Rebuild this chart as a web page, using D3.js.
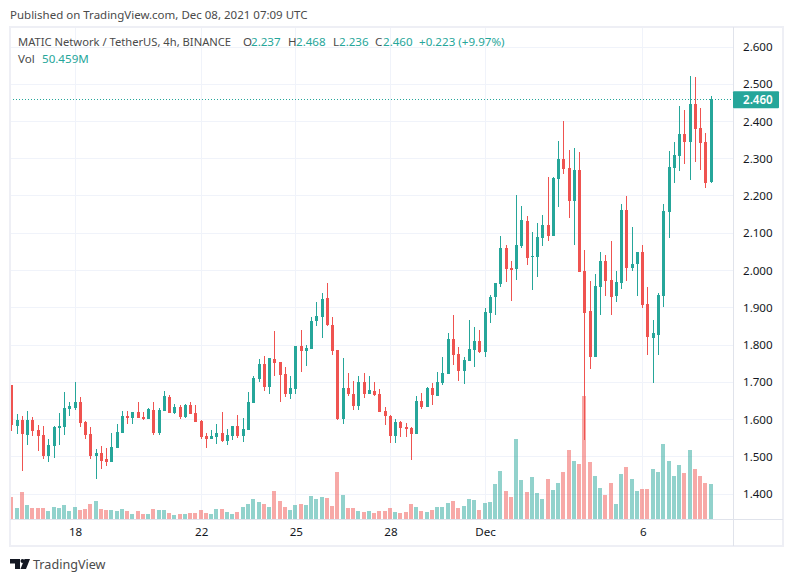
<!DOCTYPE html>
<html>
<head>
<meta charset="utf-8">
<script src="https://cdn.jsdelivr.net/npm/d3@7"></script>
<style>
  body { margin: 0; background: #fff; }
  svg { display: block; }
  text { font-family: "Noto Sans", sans-serif; }
  .tick text { font-size: 11.6px; fill: #131722; font-family: "Noto Sans", sans-serif; }
</style>
</head>
<body>
<div id="chart"></div>
<script>
// MATICUSDT 4h candles
var opens = [1.693,1.582,1.599,1.558,1.599,1.572,1.558,1.502,1.529,1.577,1.580,1.628,1.631,1.647,1.593,1.561,1.502,1.510,1.494,1.486,1.524,1.564,1.609,1.604,1.620,1.607,1.601,1.626,1.564,1.623,1.660,1.617,1.634,1.607,1.639,1.617,
  1.596,1.556,1.548,1.553,1.564,1.542,1.556,1.583,1.556,1.572,1.644,1.709,1.749,1.687,1.762,1.754,1.722,1.668,1.682,1.797,1.784,1.789,1.864,1.875,1.926,1.854,1.787,1.601,1.685,1.668,1.636,1.701,1.668,1.677,1.668,1.623,
  1.609,1.556,1.593,1.580,1.577,1.561,1.650,1.634,1.685,1.663,1.698,1.722,1.816,1.776,1.730,1.757,1.787,1.811,1.781,1.886,1.929,1.964,2.060,2.007,2.004,2.066,2.133,2.036,2.036,2.087,2.122,
  2.093,2.246,2.299,2.275,2.187,2.270,1.999,1.891,1.768,1.956,2.026,1.975,1.932,1.967,2.163,2.007,2.018,2.050,1.910,1.819,1.827,1.932,2.157,2.275,2.307,2.367,2.345,2.447,2.383,2.345,2.237];
var highs = [1.693,1.615,1.609,1.623,1.607,1.585,1.582,1.548,1.582,1.617,1.674,1.647,1.701,1.660,1.596,1.580,1.521,1.529,1.524,1.564,1.588,1.623,1.623,1.620,1.647,1.620,1.631,1.647,1.631,1.677,1.666,1.642,1.639,1.642,1.647,1.639,
  1.599,1.564,1.572,1.588,1.620,1.575,1.583,1.612,1.604,1.674,1.717,1.762,1.770,1.765,1.838,1.754,1.741,1.717,1.797,1.840,1.800,1.875,1.915,1.940,1.966,1.875,1.787,1.765,1.725,1.703,1.717,1.725,1.717,1.701,1.682,1.634,
  1.612,1.601,1.596,1.591,1.580,1.663,1.671,1.687,1.698,1.728,1.768,1.832,1.881,1.795,1.768,1.867,1.848,1.840,1.899,1.934,1.966,2.093,2.069,2.026,2.203,2.173,2.146,2.103,2.128,2.149,2.251,
  2.251,2.348,2.401,2.324,2.329,2.318,2.055,1.972,1.991,2.050,2.042,2.079,1.999,2.179,2.200,2.117,2.050,2.069,1.956,1.867,1.940,2.179,2.321,2.345,2.442,2.431,2.522,2.520,2.436,2.369,2.468];
var lows = [1.569,1.561,1.462,1.532,1.556,1.515,1.494,1.486,1.497,1.532,1.558,1.609,1.626,1.580,1.548,1.494,1.440,1.467,1.475,1.486,1.524,1.564,1.588,1.588,1.604,1.599,1.601,1.558,1.558,1.623,1.617,1.615,1.601,1.604,1.615,1.593,
  1.548,1.523,1.548,1.534,1.540,1.532,1.545,1.550,1.540,1.572,1.644,1.701,1.677,1.668,1.717,1.647,1.660,1.655,1.668,1.728,1.744,1.789,1.851,1.819,1.851,1.773,1.599,1.588,1.663,1.626,1.626,1.658,1.668,1.663,1.620,1.585,
  1.537,1.537,1.553,1.553,1.491,1.561,1.628,1.634,1.639,1.663,1.693,1.722,1.746,1.703,1.695,1.757,1.741,1.779,1.768,1.859,1.881,1.956,1.969,1.918,1.975,2.060,2.015,1.948,1.983,2.066,2.079,
  2.093,2.171,2.259,2.141,2.069,1.996,1.545,1.736,1.768,1.881,1.932,1.881,1.916,1.950,1.972,1.999,1.932,1.899,1.773,1.698,1.773,1.902,2.087,2.235,2.267,2.286,2.243,2.291,2.270,2.222,2.236];
var closes = [1.585,1.599,1.561,1.599,1.569,1.556,1.502,1.532,1.580,1.582,1.631,1.636,1.647,1.591,1.558,1.502,1.510,1.489,1.486,1.526,1.566,1.609,1.604,1.620,1.604,1.601,1.628,1.564,1.626,1.663,1.617,1.634,1.607,1.639,1.615,1.593,
  1.553,1.548,1.556,1.564,1.542,1.558,1.583,1.556,1.575,1.647,1.711,1.749,1.687,1.765,1.752,1.719,1.668,1.685,1.797,1.784,1.792,1.864,1.878,1.923,1.854,1.784,1.601,1.685,1.668,1.636,1.701,1.668,1.679,1.666,1.620,1.609,
  1.556,1.593,1.577,1.575,1.561,1.650,1.634,1.685,1.666,1.701,1.725,1.816,1.773,1.730,1.760,1.789,1.811,1.781,1.889,1.929,1.966,2.060,2.004,2.001,2.069,2.136,2.034,2.039,2.090,2.122,2.093,
  2.248,2.299,2.273,2.187,2.270,1.996,1.886,1.768,1.958,2.026,1.972,1.929,1.969,2.163,2.007,2.018,2.050,1.907,1.822,1.832,1.934,2.160,2.278,2.310,2.367,2.345,2.447,2.380,2.342,2.235,2.460];
// volume in millions
var volumes = [32.2,16.3,39.4,20.6,16.3,16.3,16.3,12,17.8,16.3,20.6,12,17.8,13.4,14.9,22.1,26.4,14.9,13.4,13.4,12,14.9,12,7.7,12,7.7,7.7,14.9,13.4,13.4,9.1,6.2,7.7,7.7,9.1,9.1,
  13,8.6,7.2,14.4,14.4,10.1,7.2,10.1,17.3,21.6,28.8,24.5,21.6,17.3,40.3,25.9,17.3,13,20.2,21.6,20.2,33.1,28.8,31.7,30.2,18.7,67.7,34.6,15.8,15.8,11.5,10.1,11.5,8.6,11.5,11.5,
  16.3,10.6,9.1,10.6,22.1,17.8,12,10.6,13.4,17.8,17.8,23.5,26.4,16.3,19.2,29.3,27.8,13.4,23.5,25,50.9,69.6,40.8,32.2,115.7,56.6,39.4,61,37.9,29.3,58.1,
  41.8,51.8,67.7,99.4,83.5,79.2,177.1,82.1,61.9,44.6,34.6,51.8,21.6,64.8,74.9,57.6,40.3,43.2,43.2,72,67.7,108,83.5,61.9,77.8,66.2,99.4,72,61.9,51.8,50.459];

var priceTicks = [1.4,1.5,1.6,1.7,1.8,1.9,2.0,2.1,2.2,2.3,2.4,2.5,2.6];
var dateTickIndex = [12,36,54,72,90,120];
var dateTickLabels = ["18","22","25","28","Dec","6"];
var lastClose = closes[closes.length - 1];

var upColor = "#26a69a", downColor = "#ef5350";
var width = 793, height = 582;
var left = 10, right = 733, top_ = 27, bottom = 519, frameBottom = 546, frameRight = 783;

var x = d3.scaleLinear().domain([0, closes.length - 1]).range([11.95, 711.06]);
var y = d3.scaleLinear().domain([1.4, 2.6]).range([494, 47]);
var v = d3.scaleLinear().domain([0, d3.max(volumes)]).range([bottom, 396]);

var svg = d3.select("#chart").append("svg")
  .attr("width", width)
  .attr("height", height);

svg.append("defs").append("clipPath").attr("id", "pane")
  .append("rect").attr("x", left).attr("y", top_)
  .attr("width", right - left).attr("height", bottom - top_);

svg.append("text") //published line
  .attr("x", 10).attr("y", 19)
  .style("font-size", "11.5px").style("fill", "#4a4a4a")
  .text("Published on TradingView.com, Dec 08, 2021 07:09 UTC");

// gridlines
var grid = svg.append("g").attr("shape-rendering", "crispEdges").attr("stroke", "#f0f3fa");
grid.selectAll(".hgrid").data(priceTicks).enter().append("line")
  .attr("x1", left).attr("x2", right)
  .attr("y1", function(d) { return Math.floor(y(d)) + 0.5; })
  .attr("y2", function(d) { return Math.floor(y(d)) + 0.5; });
grid.selectAll(".vgrid").data(dateTickIndex).enter().append("line")
  .attr("y1", top_).attr("y2", bottom)
  .attr("x1", function(d) { return Math.floor(x(d)) + 0.5; })
  .attr("x2", function(d) { return Math.floor(x(d)) + 0.5; });

var data = closes.map(function(c, i) {
  return { i: i, o: opens[i], h: highs[i], l: lows[i], c: c, vol: volumes[i] };
});
function color(d) { return d.c >= d.o ? upColor : downColor; }

var pane = svg.append("g").attr("clip-path", "url(#pane)").attr("shape-rendering", "crispEdges");

pane.selectAll(".vol").data(data).enter().append("rect") //volume bars
  .attr("x", function(d) { return Math.floor(x(d.i)) - 2; })
  .attr("width", 4)
  .attr("y", function(d) { return v(d.vol); })
  .attr("height", function(d) { return bottom - v(d.vol); })
  .attr("fill", color)
  .attr("fill-opacity", 0.5);

pane.selectAll(".wick").data(data).enter().append("rect")
  .attr("x", function(d) { return Math.floor(x(d.i)); })
  .attr("width", 1)
  .attr("y", function(d) { return y(d.h); })
  .attr("height", function(d) { return y(d.l) - y(d.h); })
  .attr("fill", color);

pane.selectAll(".body").data(data).enter().append("rect")
  .attr("x", function(d) { return Math.floor(x(d.i)) - 1; })
  .attr("width", 3)
  .attr("y", function(d) { return y(Math.max(d.o, d.c)); })
  .attr("height", function(d) { return Math.max(1, Math.abs(y(d.o) - y(d.c))); })
  .attr("fill", color);

// last price line
svg.append("line")
  .attr("x1", left).attr("x2", right)
  .attr("y1", Math.floor(y(lastClose)) + 0.5).attr("y2", Math.floor(y(lastClose)) + 0.5)
  .attr("stroke", upColor)
  .attr("stroke-dasharray", "1,2");

// frame
var frame = svg.append("g").attr("fill", "none").attr("shape-rendering", "crispEdges");
frame.append("rect")
  .attr("x", 10).attr("y", 27).attr("width", frameRight - 10).attr("height", frameBottom - 27)
  .attr("stroke", "#eeeff5").attr("stroke-width", 2);
frame.append("line").attr("x1", right + 0.5).attr("x2", right + 0.5).attr("y1", 27).attr("y2", frameBottom)
  .attr("stroke", "#e0e3eb");
frame.append("line").attr("x1", 10).attr("x2", frameRight).attr("y1", bottom + 0.5).attr("y2", bottom + 0.5)
  .attr("stroke", "#e0e3eb");

// axes
var yAxis = svg.append("g")
  .attr("transform", "translate(" + right + ",0)")
  .call(d3.axisRight(y).tickValues(priceTicks).tickSize(0).tickPadding(10).tickFormat(d3.format(".3f")));
yAxis.select(".domain").remove();

var xAxis = svg.append("g")
  .attr("transform", "translate(0," + bottom + ")")
  .call(d3.axisBottom(x).tickValues(dateTickIndex).tickSize(0).tickPadding(9)
    .tickFormat(function(d, i) { return dateTickLabels[i]; }));
xAxis.select(".domain").remove();

// last price tag
svg.append("rect")
  .attr("x", right).attr("y", y(lastClose) - 8)
  .attr("width", 46).attr("height", 17)
  .attr("rx", 1)
  .attr("fill", upColor);
svg.append("text")
  .attr("x", right + 10).attr("y", y(lastClose) + 4.5)
  .style("font-size", "11.6px").style("font-weight", "600").style("fill", "#fff")
  .text(d3.format(".3f")(lastClose));

// legend
var legendParts = [
  ["MATIC Network / TetherUS, 4h, BINANCE", 18, "#4a4a4a", 11.2],
  ["O", 243, "#4a4a4a", 11.6], ["2.237", 251, upColor, 11.6],
  ["H", 288, "#4a4a4a", 11.6], ["2.468", 296, upColor, 11.6],
  ["L", 333, "#4a4a4a", 11.6], ["2.236", 339, upColor, 11.6],
  ["C", 375, "#4a4a4a", 11.6], ["2.460", 383, upColor, 11.6],
  ["+0.223 (+9.97%)", 419, upColor, 11.6]
];
svg.selectAll(".legend").data(legendParts).enter().append("text")
  .attr("x", function(d) { return d[1]; })
  .attr("y", 46)
  .style("font-size", function(d) { return d[3] + "px"; })
  .style("fill", function(d) { return d[2]; })
  .text(function(d) { return d[0]; });
svg.append("text").attr("x", 18).attr("y", 63)
  .style("font-size", "11.6px").style("fill", "#4a4a4a").text("Vol");
svg.append("text").attr("x", 42).attr("y", 63)
  .style("font-size", "11.6px").style("fill", upColor).text("50.459M");

// logo
var logo = svg.append("g").attr("fill", "#131722");
logo.append("path").attr("d", "M10 559H20V569H15V563.5H10Z");
logo.append("circle").attr("cx", 22.5).attr("cy", 561).attr("r", 2);
logo.append("path").attr("d", "M24.5 559H30L26 569H20.5Z");
svg.append("text").attr("x", 33).attr("y", 569)
  .style("font-size", "12.6px").style("fill", "#4a4a4a").text("TradingView");
</script>
</body>
</html>
